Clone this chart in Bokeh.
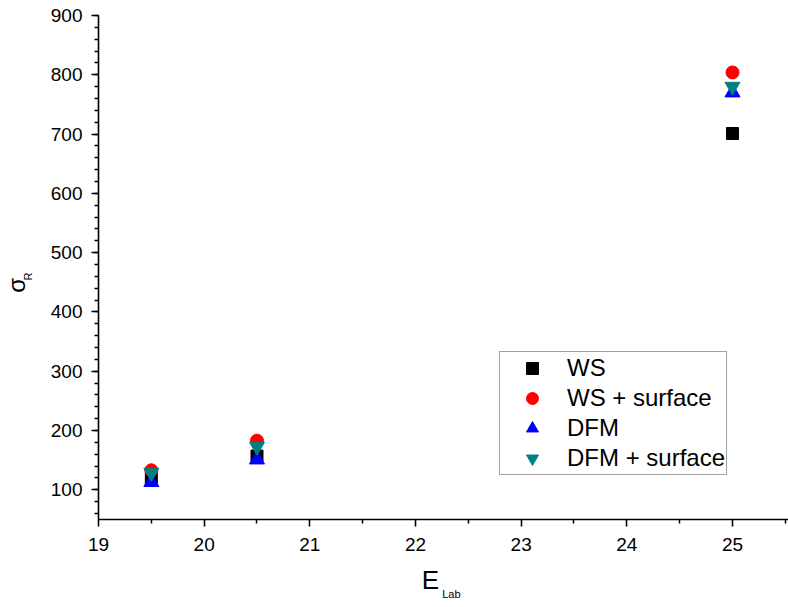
from bokeh.plotting import figure
from bokeh.models import Range1d, Legend, LegendItem, FixedTicker, ColumnDataSource, LinearAxis
from bokeh.embed import file_html
from bokeh.resources import INLINE

# Data
energy = [19.5, 20.5, 25.0]
ws = [119, 157, 701]
ws_surface = [133, 183, 804]
dfm = [113, 151, 770]
dfm_surface = [129, 173, 780]

x_ticks = [19, 20, 21, 22, 23, 24, 25]
y_ticks = [100, 200, 300, 400, 500, 600, 700, 800, 900]

FONT = "Liberation Sans"

p = figure(width=788, height=603, output_backend="svg", toolbar_location=None,
           x_range=Range1d(19, 25.53), y_range=Range1d(50, 900),
           min_border_left=98, min_border_right=0, min_border_top=15, min_border_bottom=84)
p.outline_line_color = None
p.grid.grid_line_color = None

for ax in (p.xaxis[0], p.yaxis[0]):
    ax.axis_line_color = "black"
    ax.axis_line_width = 1.6
    ax.major_tick_line_color = "black"
    ax.major_tick_line_width = 1.6
    ax.minor_tick_line_color = "black"
    ax.minor_tick_line_width = 1.5
    ax.major_tick_in = 0
    ax.major_tick_out = 7
    ax.minor_tick_in = 0
    ax.minor_tick_out = 4
    ax.major_label_text_font = FONT
    ax.major_label_text_font_size = "19px"
    ax.major_label_text_color = "black"

p.xaxis.ticker = FixedTicker(ticks=x_ticks, minor_ticks=[19.5 + i for i in range(7)])
p.yaxis.ticker = FixedTicker(ticks=y_ticks, minor_ticks=[60 + 20 * i for i in range(43)])
p.xaxis.major_label_standoff = 11
p.yaxis.major_label_standoff = 9


def title_axis(pos, text, size, standoff, orientation="horizontal"):
    ax = LinearAxis(ticker=FixedTicker(ticks=[pos], minor_ticks=[]),
                    major_label_overrides={pos: text},
                    axis_line_color=None, major_tick_line_color=None,
                    minor_tick_line_color=None, major_tick_out=0, major_tick_in=0,
                    minor_tick_out=0, minor_tick_in=0,
                    major_label_standoff=standoff,
                    major_label_orientation=orientation,
                    major_label_text_font=FONT, major_label_text_font_size=size,
                    major_label_text_color="black")
    return ax


# axis titles with subscripts, drawn as labels of tick-less axes
p.add_layout(title_axis(22.142, "E", "26px", 11), "below")
p.add_layout(title_axis(22.34, "Lab", "11px", -10), "below")
p.add_layout(title_axis(460, "R", "11px", 13, "parallel"), "left")
p.add_layout(title_axis(445, "σ", "24px", -11, "parallel"), "left")

src = ColumnDataSource(dict(x=energy, ws=ws, wss=ws_surface, dfm=dfm, dfms=dfm_surface))
r1 = p.scatter("x", "ws", source=src, marker="square", size=12, color="black")
r2 = p.scatter("x", "wss", source=src, marker="circle", size=13, color="red")
r3 = p.scatter("x", "dfm", source=src, marker="triangle", size=15, color="blue")
r4 = p.scatter("x", "dfms", source=src, marker="inverted_triangle", size=15, color="#008080")

legend = Legend(items=[LegendItem(label="WS", renderers=[r1]),
                       LegendItem(label="WS + surface", renderers=[r2]),
                       LegendItem(label="DFM", renderers=[r3]),
                       LegendItem(label="DFM + surface", renderers=[r4])],
                location=(401, 44), padding=1, spacing=0, margin=0,
                glyph_height=30, glyph_width=62, label_height=30, label_standoff=4,
                label_text_font=FONT, label_text_font_size="24px",
                label_text_color="black",
                border_line_color="#444444", border_line_width=1,
                background_fill_alpha=1)
p.add_layout(legend, "center")

open("out.html", "w").write(file_html(p, INLINE))
